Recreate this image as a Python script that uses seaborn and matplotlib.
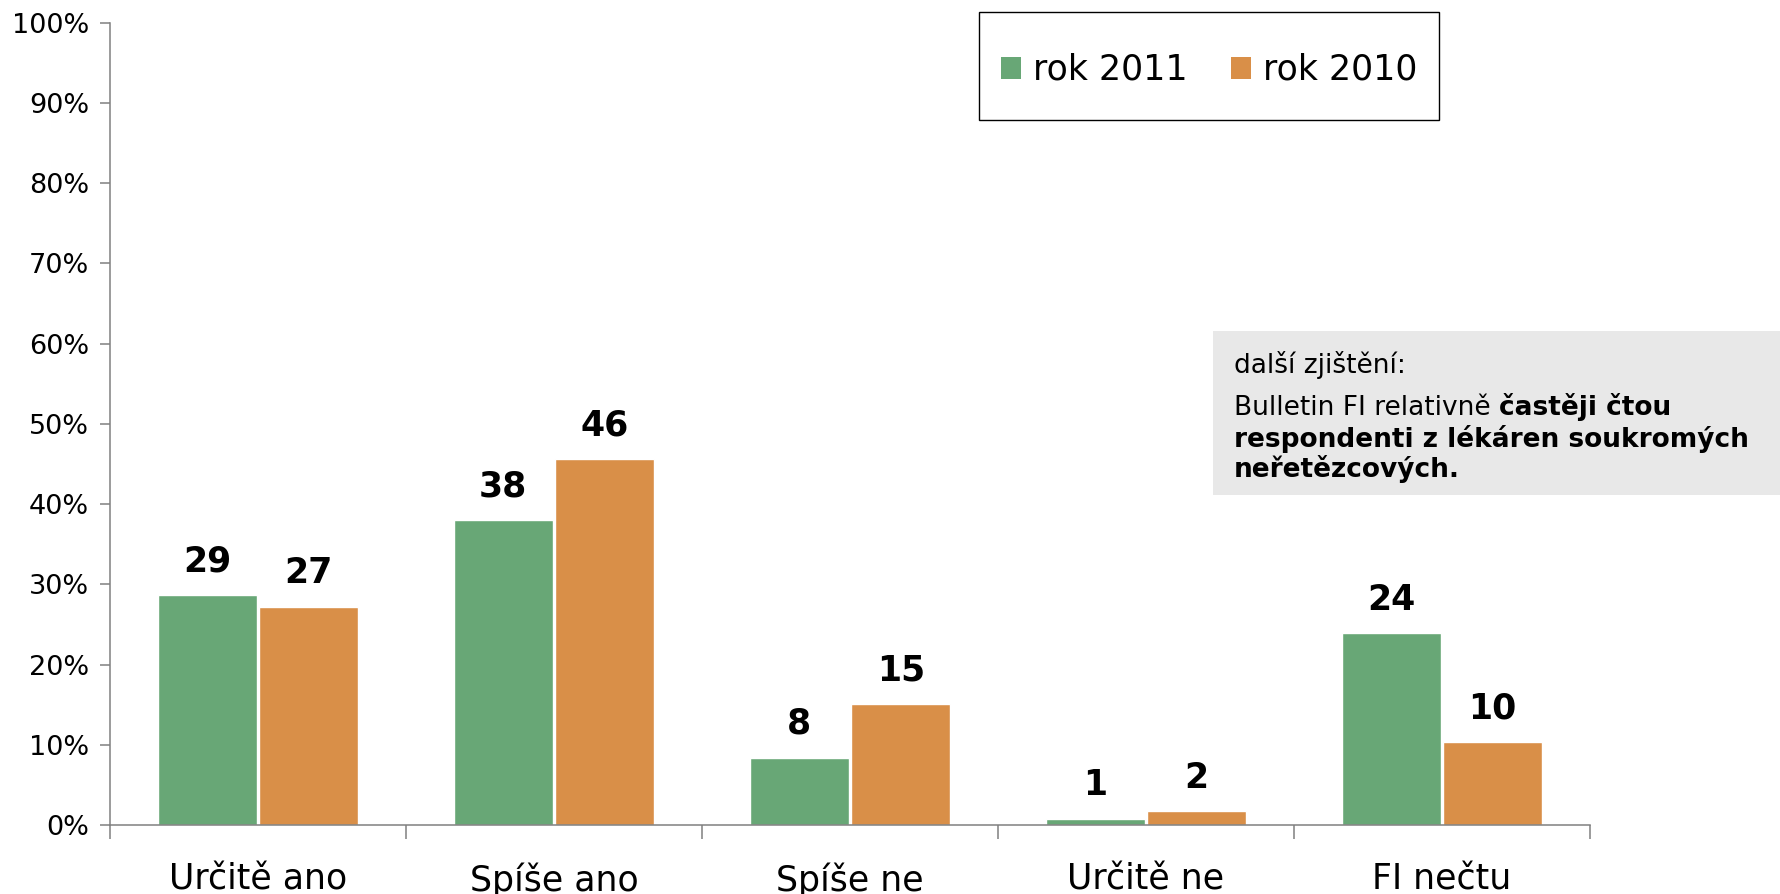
import matplotlib
matplotlib.use("Agg")
import matplotlib.pyplot as plt
import seaborn as sns
import pandas as pd
from matplotlib.patches import Rectangle

categories = ["Určitě ano", "Spíše ano", "Spíše ne", "Určitě ne", "FI nečtu"]
series = ["rok 2011", "rok 2010"]
values_2011 = [28.7, 38.0, 8.4, 0.8, 23.9]
values_2010 = [27.2, 45.6, 15.1, 1.7, 10.3]
labels_2011 = ["29", "38", "8", "1", "24"]
labels_2010 = ["27", "46", "15", "2", "10"]
yticks = [0, 10, 20, 30, 40, 50, 60, 70, 80, 90, 100]
colors = ["#68A776", "#D98F48"]
note_title = "další zjištění:"
note_normal = "Bulletin FI relativně "
note_bold1 = "častěji čtou"
note_bold2 = "respondenti z lékáren soukromých"
note_bold3 = "neřetězcových."

sns.set_theme(style="white")
plt.rcParams['font.family'] = ['DejaVu Sans']
plt.rcParams['text.color'] = 'black'
plt.rcParams['xtick.labelcolor'] = 'black'
plt.rcParams['ytick.labelcolor'] = 'black'
plt.rcParams['legend.labelcolor'] = 'black'

W, H = 1780, 894
fig = plt.figure(figsize=(W / 100, H / 100), dpi=100)
ax = fig.add_axes([110 / W, 1 - 825 / H, 1480 / W, (825 - 22.7) / H])

df = pd.DataFrame({
    "cat": categories * 2,
    "val": values_2011 + values_2010,
    "series": [series[0]] * len(categories) + [series[1]] * len(categories),
})

sns.barplot(data=df, x="cat", y="val", hue="series", order=categories,
            hue_order=series, palette=colors, width=0.685, gap=0.025,
            saturation=1, legend=False, errorbar=None, ax=ax)

for cont, labs in zip(ax.containers, [labels_2011, labels_2010]):
    ax.bar_label(cont, labels=labs, padding=12, fontsize=25, fontweight="bold", color="black")

gray = "#808080"
ax.set_ylim(0, 100)
ax.set_xlim(-0.5, len(categories) - 0.5)
ax.set_yticks(yticks)
ax.set_yticklabels([f"{v}%" for v in yticks])
ax.set_xticks(range(len(categories)))
ax.set_xticklabels(categories)
ax.set_xticks([i - 0.5 for i in range(len(categories) + 1)], minor=True)
ax.tick_params(axis="x", which="major", length=0, pad=27, labelsize=25)
ax.tick_params(axis="x", which="minor", length=10, width=1.1, color=gray, direction="out", bottom=True)
ax.tick_params(axis="y", which="major", length=7, width=1.1, color=gray, direction="out", left=True, pad=8, labelsize=19.5)
ax.set_xlabel("")
ax.set_ylabel("")
for s in ["top", "right"]:
    ax.spines[s].set_visible(False)
for s in ["left", "bottom"]:
    ax.spines[s].set_color(gray)
    ax.spines[s].set_linewidth(1.1)

# legend
handles = [Rectangle((0, 0), 1, 1, facecolor=c, edgecolor="none") for c in colors]
fig.legend(handles, series, loc="center", bbox_to_anchor=(1209 / W, 1 - 70 / H),
           ncol=2, frameon=False, fontsize=25, handlelength=0.58, handleheight=0.58,
           handletextpad=0.35, columnspacing=1.24)
fig.add_artist(Rectangle((979 / W, 1 - 120 / H), 460 / W, 108 / H, transform=fig.transFigure,
                         fill=False, edgecolor="black", linewidth=1))

# note box
fig.add_artist(Rectangle((1213 / W, 1 - 495 / H), (W - 1213) / W, 164 / H,
                         transform=fig.transFigure, facecolor="#E8E8E8", edgecolor="none"))
fs = 19
fig.text(1234 / W, 1 - 373 / H, note_title, fontsize=fs, va="baseline")
t1 = fig.text(1234 / W, 1 - 415 / H, note_normal, fontsize=fs, va="baseline")
fig.text(1234 / W, 1 - 447 / H, note_bold2, fontsize=fs, fontweight="bold", va="baseline")
fig.text(1234 / W, 1 - 477 / H, note_bold3, fontsize=fs, fontweight="bold", va="baseline")
fig.canvas.draw()
bb = t1.get_window_extent()
fig.text(bb.x1 / W, 1 - 415 / H, note_bold1, fontsize=fs, fontweight="bold", va="baseline")

fig.savefig("out.png", dpi=100)
